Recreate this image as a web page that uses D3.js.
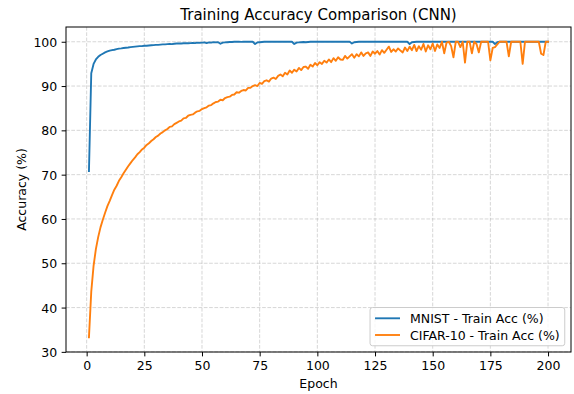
<!DOCTYPE html>
<html><head><meta charset="utf-8">
<script src="https://cdn.jsdelivr.net/npm/d3@7"></script>
<style>html,body{margin:0;padding:0;background:#fff;}svg{display:block;font-family:"DejaVu Sans",sans-serif;}</style>
</head><body>
<script>
const epochs = d3.range(1, 201);
const mnistAcc = [
70.8,92.9,95.0,96.0,96.6,97.0,97.3,97.6,97.8,98.0,
98.1,98.2,98.35,98.45,98.5,98.6,98.65,98.7,98.8,98.85,
98.9,98.95,99.0,99.0,99.1,99.1,99.15,99.2,99.25,99.3,
99.3,99.35,99.4,99.4,99.45,99.5,99.45,99.55,99.6,99.6,
99.6,99.65,99.7,99.65,99.7,99.75,99.7,99.8,99.75,99.8,
99.85,99.7,99.85,99.8,99.9,99.85,99.9,99.55,99.8,99.85,
99.9,99.95,99.95,100,100,100,99.98,100,100,100,
100,100,99.5,99.85,99.9,99.95,100,100,100,100,
100,100,100,100,100,100,100,100,100,99.5,
99.8,99.85,99.9,99.95,99.9,99.95,100,100,100,100,
100,100,100,100,100,100,100,100,100,100,
100,100,100,100,99.6,99.9,99.95,100,100,100,
100,100,100,100,100,100,100,100,100,100,
100,100,100,100,100,100,100,100,100,99.5,
99.9,99.95,100,100,100,100,100,100,100,100,
100,100,100,100,100,100,100,100,100,100,
100,100,100,100,100,100,100,100,100,100,
100,100,100,100,100,100,99.5,99.9,100,100,
100,100,100,100,100,100,100,100,100,100,
100,100,100,100,100,100,100,100,100,100
];
const cifarAcc = [
33.3,43.6,49.4,53.2,55.9,58.1,59.8,61.4,62.9,64.1,
65.4,66.6,67.5,68.6,69.4,70.3,71.1,71.9,72.6,73.3,
73.9,74.6,75.1,75.7,76.1,76.7,77.1,77.6,78.0,78.5,
78.8,79.3,79.6,80.0,80.3,80.8,80.9,81.4,81.7,82.0,
82.2,82.7,82.8,83.3,83.5,83.6,84.0,84.3,84.4,84.8,
85.0,85.2,85.6,85.7,86.1,86.4,86.5,86.9,86.8,87.3,
87.5,87.6,88.0,88.1,88.6,88.5,88.9,89.1,89.0,89.6,
89.6,90.0,90.2,90.0,90.7,90.5,91.1,91.3,91.0,91.7,
91.9,91.6,92.3,92.6,92.2,93.0,92.6,93.5,93.0,93.7,
93.3,94.1,93.6,94.3,94.4,93.9,94.8,94.4,95.2,94.7,
95.4,95.0,95.7,95.3,96.0,95.4,96.3,95.7,96.5,96.0,
95.9,96.8,96.2,96.7,97.2,96.4,97.2,96.7,97.6,96.8,
97.4,97.6,96.8,97.8,97.3,97.9,97.1,98.1,97.5,98.2,
98.9,97.7,98.3,97.8,98.5,98.0,97.6,98.7,97.9,98.9,
98.1,99.3,97.9,99.0,98.2,99.5,97.8,99.2,98.3,99.6,
97.9,99.4,98.6,100.0,97.4,99.8,100.0,99.0,96.5,100.0,
100.0,98.8,100.0,95.3,100.0,100.0,97.4,100.0,99.5,97.6,
100.0,100.0,100.0,100.0,95.8,98.6,98.8,99.4,100.0,100.0,
100.0,100.0,96.7,100.0,100.0,100.0,100.0,100.0,95.0,100.0,
100.0,100.0,100.0,100.0,100.0,100.0,97.3,97.0,100.0,100.0
];
const seriesNames = ["MNIST - Train Acc (%)", "CIFAR-10 - Train Acc (%)"];
const seriesColors = ["#1f77b4", "#ff7f0e"];
const xTicks = [0,25,50,75,100,125,150,175,200];
const yTicks = [30,40,50,60,70,80,90,100];
const titleText = "Training Accuracy Comparison (CNN)";
const xLabel = "Epoch";
const yLabel = "Accuracy (%)";

const W = 574, H = 394;
const L = 66, R = 571, T = 27, B = 352;
const fs = 12.5;
const svg = d3.select("body").append("svg").attr("width", W).attr("height", H);

const x = d3.scaleLinear().domain([-8.95, 209.95]).range([L, R]);
const y = d3.scaleLinear().domain([29.97, 103.33]).range([B, T]);

// grid
const grid = svg.append("g").attr("stroke", "#b0b0b0").attr("stroke-opacity", 0.5)
  .attr("stroke-width", 1).attr("stroke-dasharray", "3.7,1.6");
xTicks.forEach(t => grid.append("line").attr("x1", x(t)).attr("x2", x(t)).attr("y1", T).attr("y2", B));
yTicks.forEach(t => grid.append("line").attr("x1", L).attr("x2", R).attr("y1", y(t)).attr("y2", y(t)));

// lines
const data = [mnistAcc, cifarAcc];
const line = d3.line().x((d, i) => x(epochs[i])).y(d => y(d));
svg.append("defs").append("clipPath").attr("id", "clip").append("rect")
  .attr("x", L).attr("y", T).attr("width", R - L).attr("height", B - T);
data.forEach((s, k) => {
  svg.append("path").datum(s).attr("d", line).attr("fill", "none")
    .attr("stroke", seriesColors[k]).attr("stroke-width", 1.875)
    .attr("stroke-linejoin", "round").attr("stroke-linecap", "square")
    .attr("clip-path", "url(#clip)");
});

// axes
const xAxis = d3.axisBottom(x).tickValues(xTicks).tickSize(4.375).tickPadding(4.375).tickFormat(d3.format("d"));
const yAxis = d3.axisLeft(y).tickValues(yTicks).tickSize(4.375).tickPadding(4.375).tickFormat(d3.format("d"));
const gx = svg.append("g").attr("transform", `translate(0,${B})`).call(xAxis);
const gy = svg.append("g").attr("transform", `translate(${L},0)`).call(yAxis);
[gx, gy].forEach(g => {
  g.select(".domain").remove();
  g.selectAll(".tick line").attr("stroke", "#000").attr("stroke-width", 1);
  g.selectAll(".tick text").attr("fill", "#000").attr("font-size", fs).attr("font-family", "DejaVu Sans");
});
gx.selectAll(".tick text").attr("dy", null).attr("y", 8.75 + 0.76 * fs);
gy.selectAll(".tick text").attr("dy", "0.36em");

// spines
svg.append("rect").attr("x", L).attr("y", T).attr("width", R - L).attr("height", B - T)
  .attr("fill", "none").attr("stroke", "#000").attr("stroke-width", 1);

// title and labels
svg.append("text").attr("x", (L + R) / 2).attr("y", 19.5).attr("text-anchor", "middle")
  .attr("font-size", 15).text(titleText);
svg.append("text").attr("x", (L + R) / 2).attr("y", 387.5).attr("text-anchor", "middle")
  .attr("font-size", fs).text(xLabel);
svg.append("text").attr("transform", `translate(25.5,${(T + B) / 2}) rotate(-90)`)
  .attr("text-anchor", "middle").attr("font-size", fs).text(yLabel);

// legend
const lg = svg.append("g");
const texts = seriesNames.map(n => lg.append("text").attr("font-size", fs).text(n));
const maxW = d3.max(texts, t => t.node().getComputedTextLength());
const pad = 0.4 * fs, hl = 2 * fs, htp = 0.8 * fs;
const boxW = pad + hl + htp + maxW + pad;
const boxR = R - 0.5 * fs, boxB = B - 0.5 * fs;
const boxL = boxR - boxW, boxT = 307.5;
lg.insert("rect", "text").attr("x", boxL).attr("y", boxT).attr("width", boxW).attr("height", boxB - boxT)
  .attr("rx", 2.5).attr("fill", "#fff").attr("fill-opacity", 0.8).attr("stroke", "#cccccc").attr("stroke-width", 1);
const rowY = [318.3, 335.0];
seriesNames.forEach((n, k) => {
  lg.append("line").attr("x1", boxL + pad).attr("x2", boxL + pad + hl).attr("y1", rowY[k]).attr("y2", rowY[k])
    .attr("stroke", seriesColors[k]).attr("stroke-width", 1.875);
  texts[k].attr("x", boxL + pad + hl + htp).attr("y", rowY[k]).attr("dy", "0.36em");
});
</script>
</body></html>
